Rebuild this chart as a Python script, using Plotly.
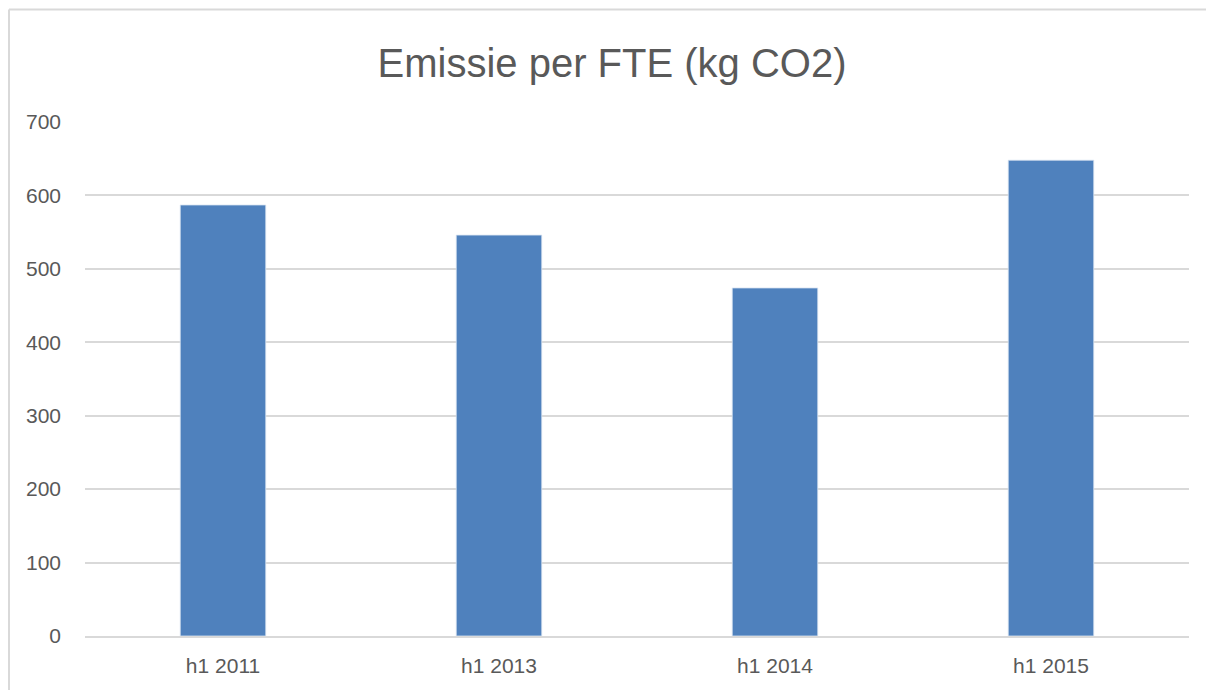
import plotly.graph_objects as go

categories = ["h1 2011", "h1 2013", "h1 2014", "h1 2015"]
values = [587, 546, 474, 648]
y_ticks = [0, 100, 200, 300, 400, 500, 600, 700]

FONT = "Liberation Sans, Arial, sans-serif"
TEXT = "#595959"
GRID = "#D9D9D9"

# page is rendered with an 8px body margin, so figure coords = page coords - 8
W, H = 1206, 682
L, T, PW, PH = 77, 114, 1104, 514

fig = go.Figure(
    go.Bar(
        x=categories,
        y=values,
        width=0.31,
        marker=dict(color="#4F81BD", line=dict(color="#DCE6F2", width=0.8)),
        hoverinfo="x+y",
    )
)

fig.update_layout(
    width=W,
    height=H,
    paper_bgcolor="white",
    plot_bgcolor="white",
    margin=dict(l=L, r=W - L - PW, t=T, b=H - T - PH),
    showlegend=False,
    title=dict(
        text="Emissie per FTE (kg CO2)",
        x=(612 - 8) / W,
        xanchor="center",
        y=1 - (63 - 8) / H,
        yanchor="middle",
        font=dict(family=FONT, size=40, color=TEXT),
    ),
    font=dict(family=FONT, size=21, color=TEXT),
    xaxis=dict(
        showgrid=False,
        showline=True,
        linecolor=GRID,
        linewidth=1.5,
        ticks="",
        tickfont=dict(family=FONT, size=21, color=TEXT),
        ticklabelstandoff=10,
    ),
    yaxis=dict(
        range=[0, 700],
        tickvals=y_ticks,
        showgrid=True,
        gridcolor=GRID,
        gridwidth=1.5,
        zeroline=False,
        showline=False,
        ticks="",
        tickfont=dict(family=FONT, size=21, color=TEXT),
        ticklabelstandoff=23,
    ),
    shapes=[
        dict(type="line", xref="paper", yref="paper",
             x0=(1 - L) / PW, x1=(1 - L) / PW,
             y0=(T + PH - 1.5) / PH, y1=-1,
             line=dict(color=GRID, width=2)),
        dict(type="line", xref="paper", yref="paper",
             x0=(1 - L) / PW, x1=(W + 10 - L) / PW,
             y0=(T + PH - 1.5) / PH, y1=(T + PH - 1.5) / PH,
             line=dict(color=GRID, width=2)),
    ],
)

fig.write_html("out.html")
